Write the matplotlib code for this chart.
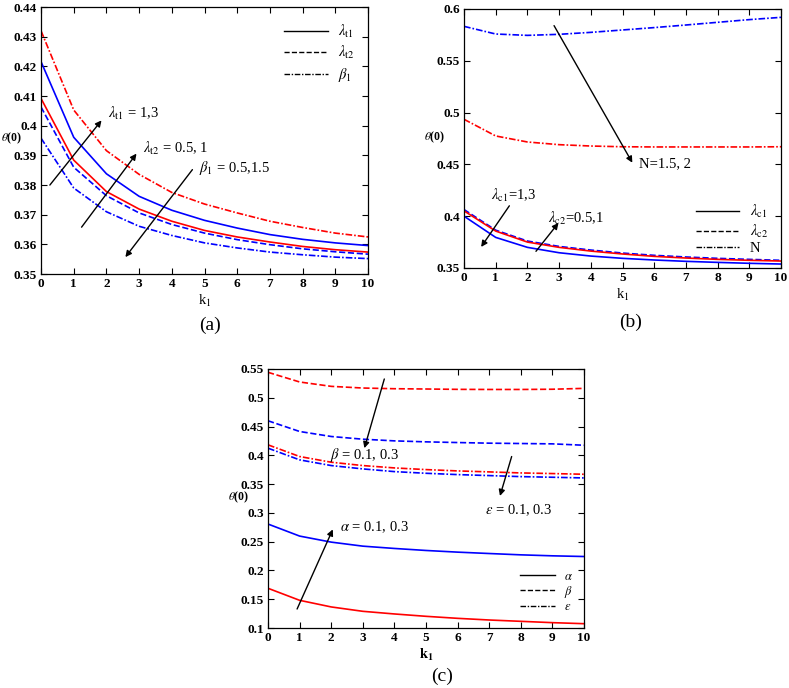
import matplotlib
matplotlib.use("Agg")
import matplotlib.pyplot as plt
from matplotlib.lines import Line2D
from matplotlib.ticker import FuncFormatter, MultipleLocator

plt.rcParams['font.family'] = ['Liberation Serif', 'DejaVu Serif']
plt.rcParams['mathtext.fontset'] = 'stix'

k1 = [0, 1, 2, 3, 4, 5, 6, 7, 8, 9, 10]

# Panel (a)
a_lt1_red = [0.4092, 0.3884, 0.3778, 0.3719, 0.3678, 0.3647, 0.3625, 0.3608, 0.3593, 0.3582, 0.3574]
a_lt1_blue = [0.4216, 0.3961, 0.3838, 0.3762, 0.3715, 0.3681, 0.3655, 0.3633, 0.3617, 0.3605, 0.3596]
a_lt2_blue = [0.4063, 0.3860, 0.3764, 0.3706, 0.3667, 0.3638, 0.3616, 0.3599, 0.3585, 0.3575, 0.3567]
a_b1_red = [0.4320, 0.4053, 0.3916, 0.3836, 0.3775, 0.3736, 0.3706, 0.3678, 0.3657, 0.3638, 0.3625]
a_b1_blue = [0.3958, 0.3790, 0.3710, 0.3661, 0.3630, 0.3605, 0.3588, 0.3574, 0.3565, 0.3557, 0.3552]

# Panel (b)
b_lc1_red = [0.4051, 0.3856, 0.3750, 0.3699, 0.3663, 0.3635, 0.3612, 0.3596, 0.3583, 0.3574, 0.3567]
b_lc1_blue = [0.4000, 0.3795, 0.3699, 0.3647, 0.3615, 0.3593, 0.3577, 0.3564, 0.3554, 0.3545, 0.3538]
b_lc2_blue = [0.4064, 0.3865, 0.3760, 0.3708, 0.3673, 0.3644, 0.3622, 0.3606, 0.3593, 0.3583, 0.3574]
b_N_red = [0.4935, 0.4774, 0.4716, 0.4690, 0.4677, 0.4670, 0.4668, 0.4668, 0.4668, 0.4668, 0.4670]
b_N_blue = [0.5832, 0.5758, 0.5745, 0.5755, 0.5774, 0.5797, 0.5820, 0.5845, 0.5871, 0.5897, 0.5919]

# Panel (c)
c_alpha_red = [0.1690, 0.1481, 0.1366, 0.1290, 0.1244, 0.1203, 0.1168, 0.1139, 0.1116, 0.1093, 0.1075]
c_alpha_blue = [0.2806, 0.2597, 0.2492, 0.2422, 0.2382, 0.2347, 0.2318, 0.2294, 0.2271, 0.2254, 0.2242]
c_beta_red = [0.5442, 0.5274, 0.5198, 0.5169, 0.5157, 0.5152, 0.5146, 0.5144, 0.5144, 0.5148, 0.5163]
c_beta_blue = [0.4600, 0.4414, 0.4327, 0.4280, 0.4251, 0.4234, 0.4222, 0.4211, 0.4205, 0.4199, 0.4175]
c_eps_red = [0.4182, 0.3979, 0.3880, 0.3822, 0.3781, 0.3752, 0.3729, 0.3712, 0.3694, 0.3683, 0.3671]
c_eps_blue = [0.4124, 0.3921, 0.3822, 0.3764, 0.3717, 0.3688, 0.3665, 0.3648, 0.3630, 0.3619, 0.3607]

RED = '#ff0000'
BLUE = '#0000ff'
DD = (0, (4, 1.2, 1, 1.2))
LW = 1.2

fig = plt.figure(figsize=(7.89, 6.88), dpi=100)

fmt = FuncFormatter(lambda v, p: ('%g' % round(v, 4)))


def style(ax, ylo, yhi, ystep):
    ax.set_xlim(0, 10)
    ax.set_ylim(ylo, yhi)
    ax.xaxis.set_major_locator(MultipleLocator(1))
    ax.yaxis.set_major_locator(MultipleLocator(ystep))
    ax.yaxis.set_major_formatter(fmt)
    ax.tick_params(direction='in', top=True, right=True, length=4.5, width=0.8,
                   labelsize=9.5, pad=3)
    for lab in ax.get_xticklabels() + ax.get_yticklabels():
        lab.set_fontweight('bold')
    for s in ax.spines.values():
        s.set_linewidth(0.9)


def arrow(ax, tail, head):
    ax.annotate('', xy=head, xytext=tail,
                arrowprops=dict(arrowstyle='-|>', color='k', lw=1.0, mutation_scale=9,
                                shrinkA=0, shrinkB=0))


def legend(ax, labels, bbox, fs, spacing, hl):
    handles = [Line2D([], [], color='k', ls='-', lw=1.0),
               Line2D([], [], color='k', ls='--', lw=1.0),
               Line2D([], [], color='k', ls=DD, lw=1.0)]
    ax.legend(handles, labels, loc='upper right', bbox_to_anchor=bbox, frameon=False,
              handlelength=hl, fontsize=fs, labelspacing=spacing, handletextpad=0.7)


def ylab(ax, xf, yf, fs):
    ax.set_ylabel(r'$\theta$(0)', fontsize=fs, fontweight='bold', rotation=0,
                  ha='right', va='center')
    ax.yaxis.set_label_coords(xf, yf)


# ---------- (a) ----------
axa = fig.add_axes([0.052, 0.6017, 0.4144, 0.388])
axa.plot(k1, a_lt1_red, color=RED, lw=LW)
axa.plot(k1, a_lt1_blue, color=BLUE, lw=LW)
axa.plot(k1, a_lt2_blue, color=BLUE, lw=LW, ls='--')
axa.plot(k1, a_b1_red, color=RED, lw=LW, ls=DD)
axa.plot(k1, a_b1_blue, color=BLUE, lw=LW, ls=DD)
style(axa, 0.35, 0.44, 0.01)
arrow(axa, (0.27, 0.3800), (1.85, 0.4018))
axa.text(2.06, 0.4043, r'$\lambda_{\mathrm{t1}}$ = 1,3', fontsize=10.5, va='center')
arrow(axa, (1.24, 0.3658), (2.92, 0.3906))
axa.text(3.13, 0.3925, r'$\lambda_{\mathrm{t2}}$ = 0.5, 1', fontsize=10.5, va='center')
arrow(axa, (4.63, 0.3852), (2.58, 0.3557))
axa.text(4.84, 0.3857, r'$\beta_{\mathrm{1}}$ = 0.5,1.5', fontsize=10.5, va='center')
legend(axa, [r'$\lambda_{\mathrm{t1}}$', r'$\lambda_{\mathrm{t2}}$', r'$\beta_{\mathrm{1}}$'],
       (1.0, 0.99), 10.5, 0.3, 3.0)
axa.set_xlabel(r'k$_{1}$', fontsize=10.5, labelpad=2)
ylab(axa, -0.058, 0.51, 8.5)

# ---------- (b) ----------
axb = fig.add_axes([0.5881, 0.6105, 0.4018, 0.3765])
axb.plot(k1, b_lc1_blue, color=BLUE, lw=LW)
axb.plot(k1, b_lc2_blue, color=BLUE, lw=LW, ls='--')
axb.plot(k1, b_lc1_red, color=RED, lw=LW)
axb.plot(k1, b_N_red, color=RED, lw=LW, ls=DD)
axb.plot(k1, b_N_blue, color=BLUE, lw=LW, ls=DD)
style(axb, 0.35, 0.60, 0.05)
arrow(axb, (2.84, 0.5839), (5.31, 0.4516))
axb.text(5.53, 0.4503, 'N=1.5, 2', fontsize=10.5, va='center')
arrow(axb, (1.43, 0.4100), (0.54, 0.3703))
axb.text(0.85, 0.4203, r'$\lambda_{\mathrm{c1}}$=1,3', fontsize=10.5, va='center')
arrow(axb, (2.27, 0.3661), (2.98, 0.3935))
axb.text(2.65, 0.3977, r'$\lambda_{\mathrm{c2}}$=0.5,1', fontsize=10.5, va='center')
legend(axb, [r'$\lambda_{\mathrm{c1}}$', r'$\lambda_{\mathrm{c2}}$', 'N'],
       (1.0, 0.30), 10.5, 0.15, 3.0)
axb.set_xlabel(r'k$_{1}$', fontsize=10.5, labelpad=2)
ylab(axb, -0.06, 0.506, 8.5)

# ---------- (c) ----------
axc = fig.add_axes([0.3397, 0.0872, 0.4005, 0.3765])
axc.plot(k1, c_alpha_red, color=RED, lw=LW)
axc.plot(k1, c_alpha_blue, color=BLUE, lw=LW)
axc.plot(k1, c_beta_red, color=RED, lw=LW, ls='--')
axc.plot(k1, c_beta_blue, color=BLUE, lw=LW, ls='--')
axc.plot(k1, c_eps_red, color=RED, lw=LW, ls=DD)
axc.plot(k1, c_eps_blue, color=BLUE, lw=LW, ls=DD)
style(axc, 0.10, 0.55, 0.05)
arrow(axc, (3.68, 0.5326), (3.05, 0.4124))
axc.text(1.97, 0.4008, r'$\beta$ = 0.1, 0.3', fontsize=10.5, va='center')
arrow(axc, (7.71, 0.3979), (7.34, 0.3294))
axc.text(6.86, 0.3050, r'$\epsilon$ = 0.1, 0.3', fontsize=10.5, va='center')
arrow(axc, (0.92, 0.1330), (2.05, 0.2713))
axc.text(2.28, 0.2748, r'$\alpha$ = 0.1, 0.3', fontsize=10.5, va='center')
legend(axc, [r'$\alpha$', r'$\beta$', r'$\epsilon$'], (1.0, 0.265), 9, 0.1, 2.8)
axc.set_xlabel(r'$\mathbf{k_{1}}$', fontsize=10.5, labelpad=2)
ylab(axc, -0.06, 0.505, 8.5)

fig.text(210 / 789, 1 - 325 / 688, '(a)', fontsize=14, ha='center', va='center')
fig.text(631 / 789, 1 - 322 / 688, '(b)', fontsize=14, ha='center', va='center')
fig.text(442 / 789, 1 - 676 / 688, '(c)', fontsize=14, ha='center', va='center')

fig.savefig('out.png', dpi=100)
